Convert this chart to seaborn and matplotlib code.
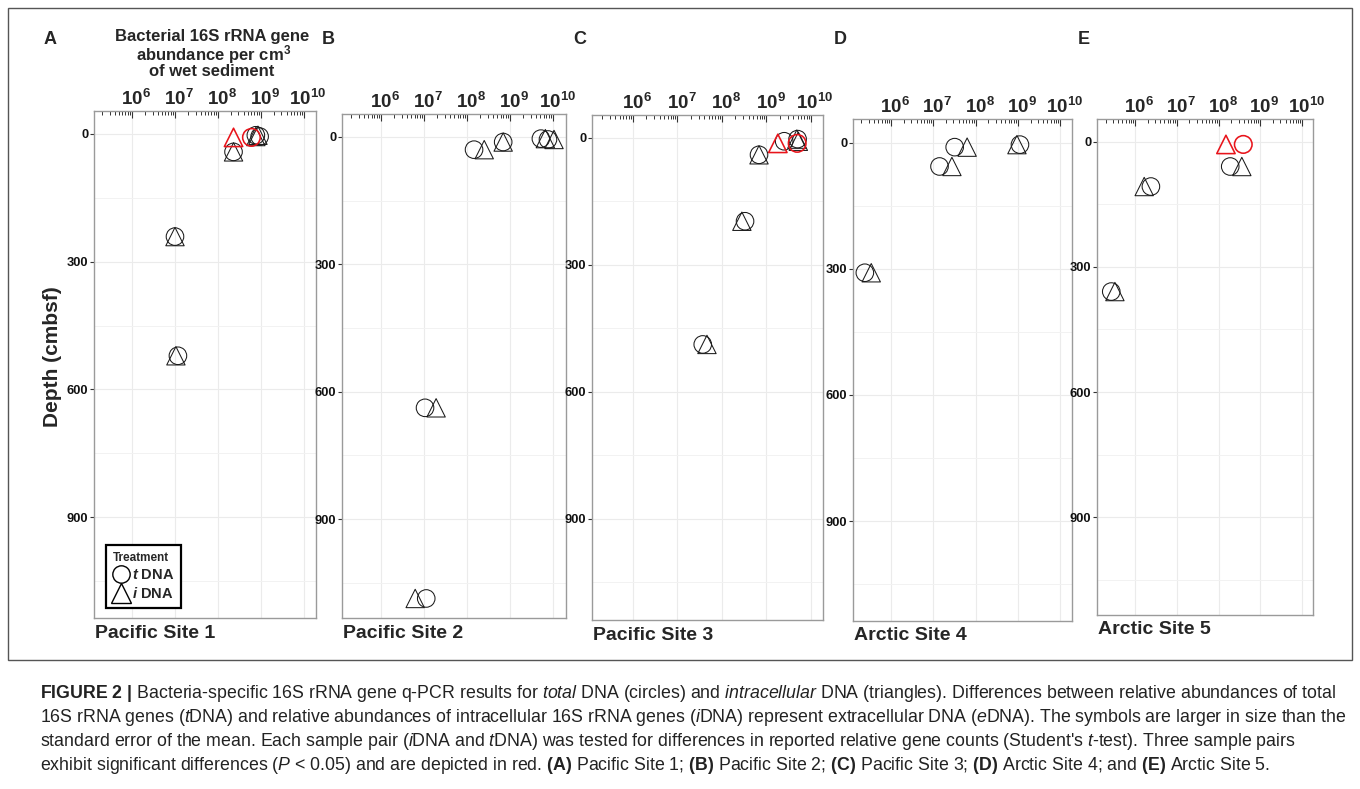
import numpy as np
import pandas as pd
import matplotlib
matplotlib.use("Agg")
import matplotlib.pyplot as plt
import seaborn as sns
from matplotlib.lines import Line2D
from matplotlib.ticker import LogLocator, NullFormatter, FixedLocator
from matplotlib.transforms import ScaledTranslation
from matplotlib.patches import Rectangle

sns.set_theme(style="white")
plt.rcParams["font.family"] = ["Liberation Sans", "DejaVu Sans"]
plt.rcParams["mathtext.fontset"] = "custom"
plt.rcParams["mathtext.rm"] = "Liberation Sans"
plt.rcParams["mathtext.sf"] = "Liberation Sans"
plt.rcParams["mathtext.it"] = "Liberation Sans:italic"
plt.rcParams["mathtext.bf"] = "Liberation Sans:bold"
plt.rcParams["mathtext.bfit"] = "Liberation Sans:italic:bold"

# ---------------- data ----------------
site_names = ["Pacific Site 1", "Pacific Site 2", "Pacific Site 3", "Arctic Site 4", "Arctic Site 5"]
panel_letters = ["A", "B", "C", "D", "E"]
x_tick_values = [1e6, 1e7, 1e8, 1e9, 1e10]
x_tick_labels = [r"$\mathbf{10^{6}}$", r"$\mathbf{10^{7}}$", r"$\mathbf{10^{8}}$",
                 r"$\mathbf{10^{9}}$", r"$\mathbf{10^{10}}$"]
y_tick_values = [0, 300, 600, 900]

# depth (cmbsf), tDNA and iDNA abundance per cm3, significant difference flag
site1_depth = [3, 6, 8, 42, 241, 521]
site1_tdna = [7.6e8, 9.3e8, 6.0e8, 2.3e8, 1.0e7, 1.17e7]
site1_idna = [8.5e8, 7.6e8, 2.3e8, 2.3e8, 1.0e7, 1.05e7]
site1_sig = [False, False, True, False, False, False]

site2_depth = [4, 6, 12, 30, 638, 1087]
site2_tdna = [5.2e9, 7.6e9, 6.9e8, 1.45e8, 1.05e7, 1.12e7]
site2_idna = [6.6e9, 1.05e10, 6.9e8, 2.5e8, 1.9e7, 6.2e6]
site2_sig = [False, False, False, False, False, False]

site3_depth = [3, 8, 13, 40, 197, 488]
site3_tdna = [5.0e9, 2.5e9, 4.9e9, 6.8e8, 3.3e8, 3.7e7]
site3_idna = [4.8e9, 5.2e9, 1.8e9, 6.8e8, 2.8e8, 4.6e7]
site3_sig = [False, False, True, False, False, False]

site4_depth = [4, 10, 56, 309]
site4_tdna = [1.12e9, 3.2e7, 1.4e7, 2.4e5]
site4_idna = [9.5e8, 6.3e7, 2.75e7, 3.4e5]
site4_sig = [False, False, False, False]

site5_depth = [6, 59, 107, 359]
site5_tdna = [3.9e8, 1.9e8, 2.4e6, 2.7e5]
site5_idna = [1.5e8, 3.6e8, 1.66e6, 3.3e5]
site5_sig = [True, False, False, False]

sites = [
    (site1_depth, site1_tdna, site1_idna, site1_sig),
    (site2_depth, site2_tdna, site2_idna, site2_sig),
    (site3_depth, site3_tdna, site3_idna, site3_sig),
    (site4_depth, site4_tdna, site4_idna, site4_sig),
    (site5_depth, site5_tdna, site5_idna, site5_sig),
]

# ---------------- layout (pixels) ----------------
W, H = 1360, 789
fig = plt.figure(figsize=(W / 100, H / 100), dpi=100)
fig.patch.set_facecolor("white")


def fx(x):
    return x / W


def fy(y):
    return 1 - y / H


axes_px = [(94, 111, 316, 618), (342, 114, 566, 618), (592, 115, 823, 620),
           (853, 119, 1072, 621), (1097, 119, 1313, 615)]
xlims_log = [(5.116, 10.28), (5.09, 10.30), (5.08, 10.27), (5.10, 10.28), (5.09, 10.26)]
ylims = [(1137, -54), (1133, -54), (1139, -54), (1138, -57), (1135, -55)]
letter_px = [(50, 40), (328, 40), (580, 40), (840, 40), (1084, 40)]
site_label_y = [634, 633, 636, 635, 630]

markers = {"t DNA": "o", "i DNA": "^"}
msize = {"t DNA": 160, "i DNA": 175}

for k, (depth, tdna, idna, sig) in enumerate(sites):
    l, t, r, b = axes_px[k]
    ax = fig.add_axes([fx(l), fy(b), (r - l) / W, (b - t) / H])
    ax.set_xscale("log")
    df = pd.concat([
        pd.DataFrame({"abundance": tdna, "depth": depth, "Treatment": "t DNA", "sig": sig}),
        pd.DataFrame({"abundance": idna, "depth": depth, "Treatment": "i DNA", "sig": sig}),
    ], ignore_index=True)
    for (treat, sg), g in df.groupby(["Treatment", "sig"]):
        sns.scatterplot(data=g, x="abundance", y="depth", marker=markers[treat],
                        s=msize[treat], facecolors="none",
                        edgecolor="#e8141b" if sg else "#1a1a1a",
                        linewidth=1.15 if sg else 0.75,
                        legend=False, ax=ax, zorder=4 if sg else 3)
    ax.set_xlim(10 ** xlims_log[k][0], 10 ** xlims_log[k][1])
    ax.set_ylim(*ylims[k])
    ax.set_xlabel("")
    ax.set_ylabel("")

    # x axis on top
    ax.xaxis.tick_top()
    ax.set_xticks(x_tick_values)
    ax.set_xticklabels(x_tick_labels)
    ax.xaxis.set_minor_locator(LogLocator(base=10, subs=np.arange(2, 10) * 1.0, numticks=20))
    ax.xaxis.set_minor_formatter(NullFormatter())
    ax.tick_params(axis="x", which="major", direction="in", length=5, width=0.8,
                   color="#333333", pad=1.5, labelsize=13.5, top=True, bottom=False,
                   labeltop=True, labelbottom=False)
    ax.tick_params(axis="x", which="minor", direction="in", length=2.8, width=0.7,
                   color="#333333", top=True, bottom=False)
    off = ScaledTranslation(4.0 / 100, 0, fig.dpi_scale_trans)
    for lbl in ax.get_xticklabels():
        lbl.set_transform(lbl.get_transform() + off)

    ax.set_yticks(y_tick_values)
    ax.yaxis.set_minor_locator(FixedLocator([150, 450, 750, 1050]))
    ax.tick_params(axis="y", which="major", direction="out", length=3, width=0.8,
                   color="#333333", pad=1, labelsize=9.3, left=True)
    ax.tick_params(axis="y", which="minor", length=0)
    for lbl in ax.get_yticklabels():
        lbl.set_fontweight("bold")
        lbl.set_color("#111111")

    ax.set_axisbelow(True)
    ax.grid(True, which="major", color="#ebebeb", linewidth=0.8)
    ax.yaxis.grid(True, which="minor", color="#f2f2f2", linewidth=0.7)
    for sp in ax.spines.values():
        sp.set_visible(True)
        sp.set_color("#9a9a9a")
        sp.set_linewidth(1.0)

    fig.text(fx(letter_px[k][0]), fy(letter_px[k][1]), panel_letters[k],
             ha="center", va="center", fontsize=13, fontweight="bold")
    fig.text(fx(l + 1), fy(site_label_y[k]), site_names[k], ha="left", va="center",
             fontsize=14, fontweight="bold")

    if k == 0:
        handles = [
            Line2D([], [], marker="o", ls="none", mfc="none", mec="black", ms=12.5, mew=1.0),
            Line2D([], [], marker="^", ls="none", mfc="none", mec="black", ms=15, mew=1.0),
        ]
        labels = [r"$\bfit{t}$ DNA", r"$\bfit{i}$ DNA"]
        leg = ax.legend(handles, labels, title="Treatment", loc="lower left",
                        bbox_to_anchor=(0.054, 0.02), borderaxespad=0, frameon=True,
                        fancybox=False, edgecolor="black",
                        prop={"weight": "bold", "size": 10.5},
                        title_fontproperties={"weight": "bold", "size": 8.5},
                        handlelength=1.15, handletextpad=0.2, labelspacing=0.3,
                        borderpad=0.45, alignment="left", framealpha=1)
        leg.get_frame().set_linewidth(1.6)

# axis title (top of panel A)
fig.text(fx(212), fy(37), "Bacterial 16S rRNA gene", ha="center", va="center",
         fontsize=12, fontweight="bold")
fig.text(fx(214), fy(55), r"abundance per cm$^{\mathbf{3}}$", ha="center", va="center",
         fontsize=12, fontweight="bold")
fig.text(fx(212), fy(72), "of wet sediment", ha="center", va="center",
         fontsize=12, fontweight="bold")

fig.text(fx(52), fy(357), "Depth (cmbsf)", rotation=90, ha="center", va="center",
         fontsize=15, fontweight="bold")

# figure frame
fig.add_artist(Rectangle((fx(8), fy(660)), (1352 - 8) / W, (660 - 8) / H,
                         transform=fig.transFigure, fill=False, ec="#555555", lw=1.0))

# caption
caption_lines = [
    r"$\bf{FIGURE\ 2\ |}$ Bacteria-specific 16S rRNA gene q-PCR results for $\it{total}$ DNA (circles) and $\it{intracellular}$ DNA (triangles). Differences between relative abundances of total",
    r"16S rRNA genes ($\it{t}$DNA) and relative abundances of intracellular 16S rRNA genes ($\it{i}$DNA) represent extracellular DNA ($\it{e}$DNA). The symbols are larger in size than the",
    r"standard error of the mean. Each sample pair ($\it{i}$DNA and $\it{t}$DNA) was tested for differences in reported relative gene counts (Student's $\it{t}$-test). Three sample pairs",
    r"exhibit significant differences ($\it{P}$ < 0.05) and are depicted in red. $\bf{(A)}$ Pacific Site 1; $\bf{(B)}$ Pacific Site 2; $\bf{(C)}$ Pacific Site 3; $\bf{(D)}$ Arctic Site 4; and $\bf{(E)}$ Arctic Site 5.",
]
for i, line in enumerate(caption_lines):
    fig.text(fx(40), fy(693 + 24 * i), line, ha="left", va="center", fontsize=12.8,
             color="#222222")

fig.savefig("out.png", dpi=100, facecolor="white")
